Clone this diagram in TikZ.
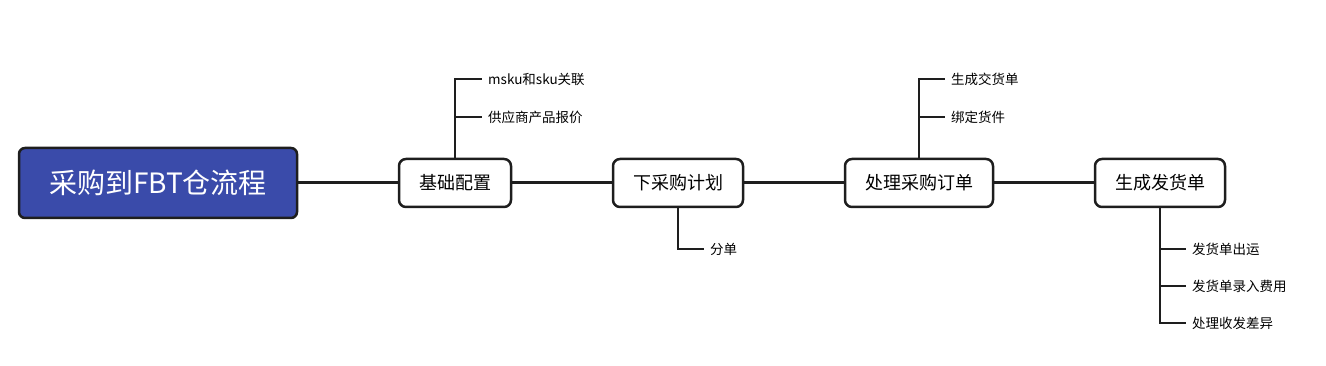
\documentclass[tikz,border=0pt]{standalone}
\usepackage{fontspec}
\newfontfamily\cjk{Noto Sans CJK SC}
\usepackage{tikz}
\usetikzlibrary{positioning}
\definecolor{rootblue}{HTML}{3A4BAA}
\definecolor{edge}{HTML}{1E1E1E}

\tikzset{
  rootnode/.style={draw=edge, line width=2.5pt, fill=rootblue, rounded corners=6pt,
    minimum width=278pt, minimum height=70pt, text=white, font=\cjk\fontsize{28}{32}\selectfont},
  stagenode/.style={draw=edge, line width=2.5pt, fill=white, rounded corners=7pt,
    minimum height=48pt, font=\cjk\fontsize{18}{22}\selectfont},
  leafnode/.style={anchor=west, inner xsep=6pt, inner ysep=2pt, font=\cjk\fontsize{13.5}{16}\selectfont},
  mainline/.style={draw=edge, line width=3pt},
  branchline/.style={draw=edge, line width=2pt},
}

\begin{document}
\begin{tikzpicture}[x=1pt, y=-1pt]
			\useasboundingbox (0,0) rectangle (1326,366);
			\node[rootnode] (root) at (158,183) {采购到FBT仓流程};
			\node[stagenode, minimum width=112pt] (jichu) at (455,183) {基础配置};
			\node[stagenode, minimum width=130pt] (jihua) at (678,183) {下采购计划};
			\node[stagenode, minimum width=148pt] (dingdan) at (919,183) {处理采购订单};
			\node[stagenode, minimum width=130pt] (fahuo) at (1160,183) {生成发货单};
			\draw[mainline] (root) -- (jichu);
			\draw[mainline] (jichu) -- (jihua);
			\draw[mainline] (jihua) -- (dingdan);
			\draw[mainline] (dingdan) -- (fahuo);
			\node[leafnode] (msku) at (482,79) {msku和sku关联};
			\node[leafnode] (baojia) at (482,117) {供应商产品报价};
			\node[leafnode] (fendan) at (704,249) {分单};
			\node[leafnode] (jiaohuo) at (945,79) {生成交货单};
			\node[leafnode] (bangding) at (945,117) {绑定货件};
			\node[leafnode] (chuyun) at (1186,249) {发货单出运};
			\node[leafnode] (feiyong) at (1186,286) {发货单录入费用};
			\node[leafnode] (chayi) at (1186,323) {处理收发差异};
			\draw[branchline] (jichu.north) |- (msku.west);
			\draw[branchline] (jichu.north) |- (baojia.west);
			\draw[branchline] (jihua.south) |- (fendan.west);
			\draw[branchline] (dingdan.north) |- (jiaohuo.west);
			\draw[branchline] (dingdan.north) |- (bangding.west);
			\draw[branchline] (fahuo.south) |- (chuyun.west);
			\draw[branchline] (fahuo.south) |- (feiyong.west);
			\draw[branchline] (fahuo.south) |- (chayi.west);
		\end{tikzpicture}
\end{document}
